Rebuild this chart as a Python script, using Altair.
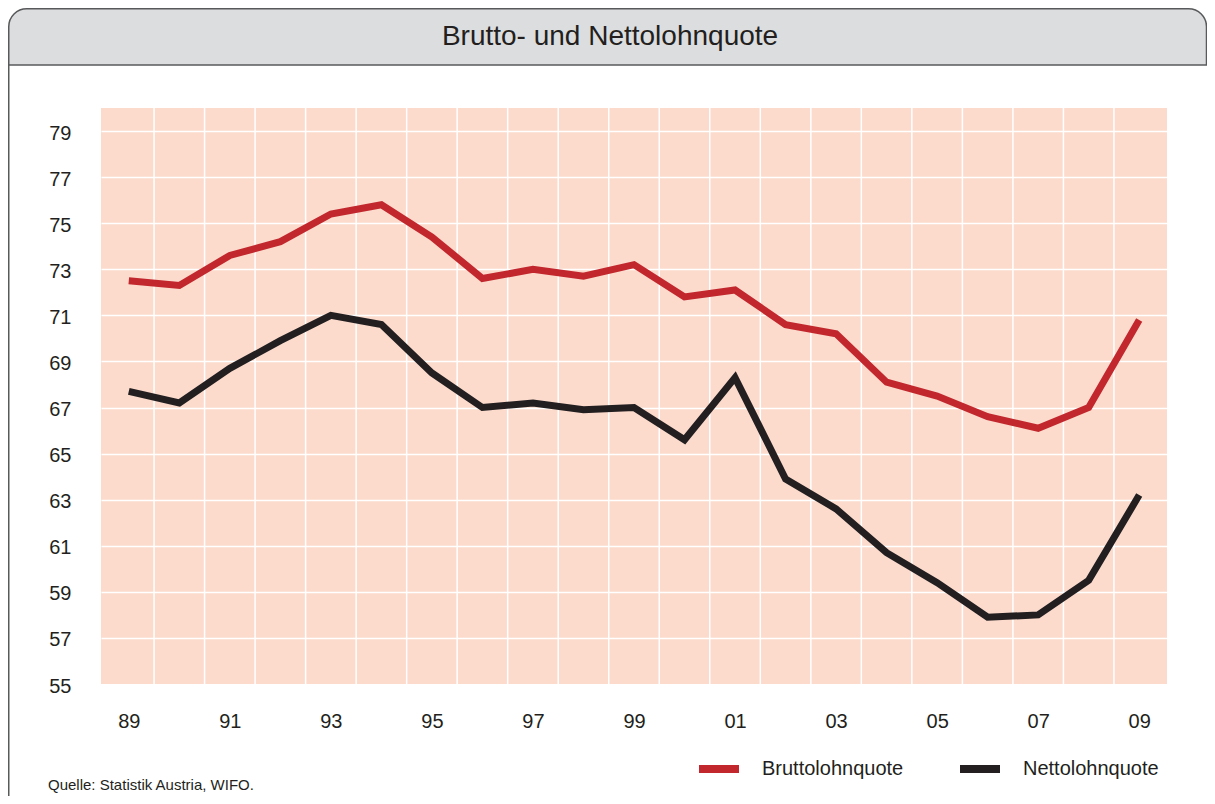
import altair as alt
import pandas as pd

years = list(range(1989, 2010))
brutto = [72.5, 72.3, 73.6, 74.2, 75.4, 75.8, 74.4, 72.6, 73.0, 72.7, 73.2,
          71.8, 72.1, 70.6, 70.2, 68.1, 67.5, 66.6, 66.1, 67.0, 70.8]
netto = [67.7, 67.2, 68.7, 69.9, 71.0, 70.6, 68.5, 67.0, 67.2, 66.9, 67.0,
         65.6, 68.3, 63.9, 62.6, 60.7, 59.4, 57.9, 58.0, 59.5, 63.2]
series = ["Bruttolohnquote", "Nettolohnquote"]
colors = ["#C1272D", "#231F20"]
x_labels = list(range(1989, 2010, 2))
y_ticks = list(range(55, 80, 2))
title_text = "Brutto- und Nettolohnquote"
source_text = "Quelle: Statistik Austria, WIFO."

FONT = "Liberation Sans, Arial, Helvetica, sans-serif"
TXT = "#231F20"

df = pd.DataFrame({
    "Jahr": years * 2,
    "Wert": brutto + netto,
    "Reihe": [series[0]] * len(years) + [series[1]] * len(years),
})
bounds = pd.DataFrame({"Jahr": [y + 0.5 for y in years[:-1]]})
one = pd.DataFrame({"k": [0]})

xscale = alt.Scale(domain=[1988.45, 2009.55], nice=False, zero=False)
xaxis = alt.Axis(values=x_labels, labelExpr="slice(toString(datum.value), 2)",
                 grid=False, domain=False, ticks=False,
                 labelFontSize=20, labelFont=FONT, labelColor=TXT,
                 labelBaseline="middle", labelPadding=37)

header = alt.Chart(one).mark_rect(
    fill="#DCDDDF", stroke="#58595B", strokeWidth=1.5,
    cornerRadiusTopLeft=18, cornerRadiusTopRight=18,
).encode(x=alt.value(-92.25), x2=alt.value(1105.5),
         y=alt.value(-99.25), y2=alt.value(-43))

border = alt.Chart(one).mark_rule(color="#58595B", strokeWidth=1.5).encode(
    x=alt.value(-92.25), y=alt.value(-43), y2=alt.value(700))

vgrid = alt.Chart(bounds).mark_rule(color="white", strokeWidth=1.5).encode(
    x=alt.X("Jahr:Q", scale=xscale, title=None, axis=xaxis))

lines = alt.Chart(df).mark_line(strokeWidth=7, strokeJoin="miter", strokeCap="butt").encode(
    x=alt.X("Jahr:Q", scale=xscale, title=None, axis=xaxis),
    y=alt.Y("Wert:Q", scale=alt.Scale(domain=[55, 80], nice=False, zero=False), title=None,
            axis=alt.Axis(values=y_ticks, domain=False, ticks=False, grid=True,
                          gridColor="white", gridWidth=1.5,
                          gridOpacity={"condition": {"test": "datum.value === 55", "value": 0}, "value": 1},
                          labelFontSize=20, labelFont=FONT, labelColor=TXT,
                          labelPadding=30, labelOffset=2)),
    color=alt.Color("Reihe:N", scale=alt.Scale(domain=series, range=colors),
                    legend=alt.Legend(title=None, orient="none", legendX=594, legendY=637,
                                      direction="horizontal", symbolType="stroke",
                                      symbolSize=1600, symbolStrokeWidth=8,
                                      labelFontSize=20, labelFont=FONT, labelColor=TXT,
                                      labelOffset=19, columnPadding=40)),
)

title = alt.Chart(one).mark_text(
    text=title_text, font=FONT, fontSize=28, color=TXT, align="center", baseline="middle"
).encode(x=alt.value(509), y=alt.value(-71))

source = alt.Chart(one).mark_text(
    text=source_text, font=FONT, fontSize=15, color=TXT, align="left", baseline="middle"
).encode(x=alt.value(-53), y=alt.value(677))

chart = alt.layer(header, border, vgrid, lines, title, source).properties(
    width=1066, height=576,
    padding={"left": 93, "top": 100, "right": 40, "bottom": 112},
    autosize=alt.AutoSizeParams(type="none"),
    background="white",
).configure_view(fill="#FCDBCD", stroke=None)

chart.save("out.html", embed_options={"renderer": "svg", "actions": False})
